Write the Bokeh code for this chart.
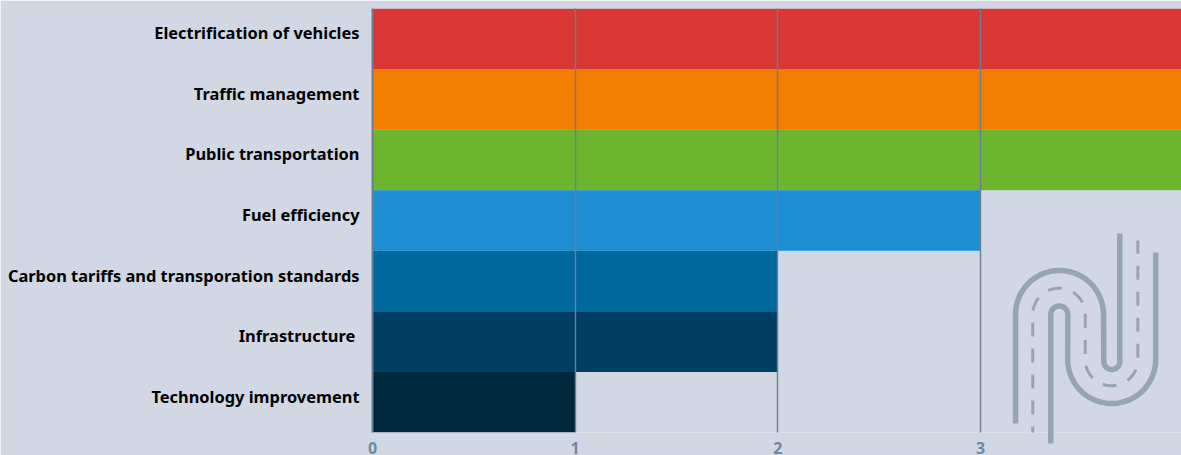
import numpy as np
from bokeh.embed import file_html
from bokeh.resources import INLINE
from bokeh.plotting import figure
from bokeh.models import Range1d, FixedTicker, Label

categories = ["Electrification of vehicles", "Traffic management", "Public transportation",
              "Fuel efficiency", "Carbon tariffs and transporation standards",
              "Infrastructure ", "Technology improvement"]
values = [4, 4, 4, 3, 2, 2, 1]
colors = ["#d93735", "#f27e00", "#6eb52f", "#1c8ed1", "#00689d", "#003f62", "#00283c"]
x_ticks = [0, 1, 2, 3]
BG = "#d1d8e3"
GRID = "#6c7e94"
TICK = "#6f8aa3"
LOGO = "#96a6b1"
FONT = "Noto Sans"

rows = list(range(len(categories)))
label_rows = [r - 0.1 for r in rows]

p = figure(width=1181, height=455, output_backend="svg", toolbar_location=None,
           x_range=Range1d(0, 809 / 202.7), y_range=Range1d(len(categories) - 0.5, -0.5),
           background_fill_color=BG, border_fill_color=BG, outline_line_color=None,
           frame_width=809, frame_height=424,
           min_border_left=372, min_border_right=0, min_border_top=8, min_border_bottom=23)

p.hbar(y=rows, right=values, left=0, height=1.0, fill_color=colors, line_color=None)

ax = p.xaxis[0]
ax.ticker = FixedTicker(ticks=x_ticks)
ax.axis_line_color = None
ax.major_tick_line_color = None
ax.minor_tick_line_color = None
ax.major_label_text_color = TICK
ax.major_label_text_font = FONT
ax.major_label_text_font_style = "bold"
ax.major_label_text_font_size = "16px"
ax.major_label_standoff = 3

ay = p.yaxis[0]
ay.ticker = FixedTicker(ticks=label_rows)
ay.major_label_overrides = dict(zip(label_rows, categories))
ay.axis_line_color = GRID
ay.axis_line_width = 2
ay.major_tick_line_color = None
ay.minor_tick_line_color = None
ay.major_label_text_color = "#000000"
ay.major_label_text_font = FONT
ay.major_label_text_font_style = "bold"
ay.major_label_text_font_size = "16.4px"
ay.major_label_standoff = 7

p.ygrid.visible = False
p.xgrid.ticker = FixedTicker(ticks=x_ticks)
p.xgrid.grid_line_color = GRID
p.xgrid.grid_line_width = 1.4
p.xgrid.level = "overlay"

# decorative road logo, drawn in reference page pixels
p.extra_x_ranges["px"] = Range1d(372, 1181)
p.extra_y_ranges["px"] = Range1d(433, 9)

p.add_layout(Label(x=4, y=454.5, x_units="data", y_range_name="px", x_offset=-1.5, text="4", text_align="center",
                   text_baseline="alphabetic", text_color=TICK, text_font=FONT, text_font_style="bold",
                   text_font_size="16px"))

def arc(cx, cy, r, a0, a1, n=40):
    t = np.radians(np.linspace(a0, a1, n))
    return cx + r * np.cos(t), cy - r * np.sin(t)

def path(parts):
    xs, ys = [], []
    for a, b in parts:
        xs.extend(np.atleast_1d(a)); ys.extend(np.atleast_1d(b))
    return xs, ys

road1 = path([(1015, 424), arc(1059, 315, 44, 180, 0), arc(1111.3, 362, 8, 180, 360), (1119.3, 234)])
road2 = path([(1050.3, 444), arc(1058.8, 315, 8.5, 180, 0), arc(1111.2, 360, 44, 180, 360), (1155.2, 253)])
mid = path([(1032.3, 433), arc(1058.5, 315, 26.3, 180, 0), arc(1111, 360, 26.3, 180, 360), (1137.3, 241)])

for r, w, dash, off in [(road1, 5.5, "solid", 0), (road2, 5.5, "solid", 0), (mid, 3, "14 12", 8)]:
    p.line(r[0], r[1], line_color=LOGO, line_width=w, line_dash=dash, line_dash_offset=off, level="overlay",
           x_range_name="px", y_range_name="px")

open("out.html", "w").write(file_html(p, INLINE))
